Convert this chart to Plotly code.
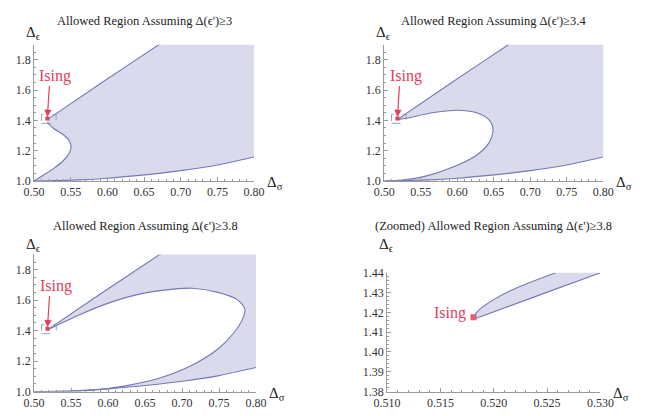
import plotly.graph_objects as go

W, H = 645, 416

# ---------------- data ----------------
titles = ["Allowed Region Assuming Δ(ϵ')≥3",
          "Allowed Region Assuming Δ(ϵ')≥3.4",
          "Allowed Region Assuming Δ(ϵ')≥3.8",
          "(Zoomed) Allowed Region Assuming Δ(ϵ')≥3.8"]

ising_x, ising_y = 0.5181, 1.4126
ising_zoom_y = 1.4175

# shared upper straight bound (tip -> top of frame)
upper_x = [0.518, 0.594, 0.670]
upper_y = [1.405, 1.655, 1.900]
# shared lower bound
lower_x = [0.500, 0.530, 0.560, 0.600, 0.640, 0.670, 0.700, 0.750, 0.800]
lower_y = [1.000, 1.002, 1.007, 1.018, 1.035, 1.050, 1.068, 1.105, 1.158]

# panel 1: left "nose" boundary, from (0.5,1.0) up to the tip
nose1_x = [0.500, 0.5125, 0.5260, 0.5400, 0.5480, 0.5505, 0.5480, 0.5400, 0.5270, 0.5180]
nose1_y = [1.000, 1.038, 1.080, 1.135, 1.185, 1.225, 1.265, 1.305, 1.345, 1.385]

# panel 2: inner boundary, from tip around to (0.5,1.0)
inner2_x = [0.518, 0.5305, 0.5654, 0.6003, 0.6265, 0.6430, 0.6491, 0.6439, 0.6265, 0.5959, 0.5567, 0.5218, 0.500]
inner2_y = [1.405, 1.4138, 1.4499, 1.4668, 1.4499, 1.4060, 1.3395, 1.2546, 1.1698, 1.0955, 1.0318, 1.0042, 1.000]

# panel 3: inner boundary, from tip around to (0.5,1.0)
inner3_x = [0.518, 0.5593, 0.6023, 0.6453, 0.6883, 0.7140, 0.7484, 0.7742, 0.7850, 0.7820, 0.7699,
            0.7484, 0.7140, 0.6711, 0.6238, 0.5722, 0.5206, 0.500]
inner3_y = [1.405, 1.4997, 1.5837, 1.6425, 1.6719, 1.6780, 1.6509, 1.6047, 1.5417, 1.4787, 1.3843,
            1.2793, 1.1743, 1.0903, 1.0378, 1.0063, 1.0000, 1.000]

# panel 4 (zoom): wedge edges
zup_x = [0.5181, 0.5184, 0.5190, 0.5216, 0.5258]
zup_y = [1.4165, 1.4200, 1.4229, 1.4310, 1.4400]
zlo_x = [0.5181, 0.5240, 0.5300]
zlo_y = [1.4165, 1.4282, 1.4400]

# zoom window shown as dashed box in panels 1-3
box_x = [0.510, 0.530]
box_y = [1.380, 1.440]

x_range = [0.50, 0.80]
y_range = [1.0, 1.9]
zx_range = [0.510, 0.530]
zy_range = [1.38, 1.44]

# ---------------- style ----------------
FILL = "#d9dbec"
EDGE = "#7478b4"
RED = "#e0405a"
SERIF = "Liberation Serif"
AXC = "#9a9a9a"

# off-frame helper points so the filled region runs past the clipped frame edges
PAD_TOP = [(0.700, 1.995), (0.950, 2.100)]
PAD_RIGHT = [(0.950, 1.300), (0.900, 1.264)]

# plot areas in pixels (left, right, top, bottom)
areas = [(21, 251, 39, 180), (387, 616, 39, 180), (21, 253, 256, 398), (390, 613, 275, 398)]

fig = go.Figure()


def ax_ids(i):
    s = "" if i == 0 else str(i + 1)
    return "x" + s, "y" + s


def add_fill(i, xs, ys, shape="spline"):
    xa, ya = ax_ids(i)
    fig.add_trace(go.Scatter(x=xs, y=ys, fill="toself", fillcolor=FILL, mode="lines",
                             line=dict(width=0, shape=shape, smoothing=0.6, color=FILL),
                             xaxis=xa, yaxis=ya, hoverinfo="skip", showlegend=False))


def add_line(i, xs, ys):
    xa, ya = ax_ids(i)
    fig.add_trace(go.Scatter(x=xs, y=ys, mode="lines",
                             line=dict(color=EDGE, width=1.1, shape="spline", smoothing=0.8),
                             xaxis=xa, yaxis=ya, hoverinfo="skip", showlegend=False))


pad_x = [p[0] for p in PAD_TOP + PAD_RIGHT]
pad_y = [p[1] for p in PAD_TOP + PAD_RIGHT]
lr_x = lower_x[::-1]
lr_y = lower_y[::-1]

# panel 1
add_fill(0, upper_x + pad_x + lr_x + nose1_x, upper_y + pad_y + lr_y + nose1_y)
add_line(0, upper_x + [PAD_TOP[0][0]], upper_y + [PAD_TOP[0][1]])
add_line(0, lower_x, lower_y)
add_line(0, nose1_x, nose1_y)

# panel 2
add_fill(1, upper_x + pad_x + lr_x + inner2_x[::-1], upper_y + pad_y + lr_y + inner2_y[::-1])
add_line(1, upper_x + [PAD_TOP[0][0]], upper_y + [PAD_TOP[0][1]])
add_line(1, lower_x, lower_y)
add_line(1, inner2_x, inner2_y)

# panel 3
add_fill(2, upper_x + pad_x + lr_x + inner3_x[::-1], upper_y + pad_y + lr_y + inner3_y[::-1])
add_line(2, upper_x + [PAD_TOP[0][0]], upper_y + [PAD_TOP[0][1]])
add_line(2, lower_x, lower_y)
add_line(2, inner3_x, inner3_y)

# panel 4
add_fill(3, zup_x + [0.540, 0.540] + zlo_x[::-1], zup_y + [1.45, 1.45] + zlo_y[::-1], shape="linear")
add_line(3, zup_x, zup_y)
add_line(3, zlo_x, zlo_y)

# dashed boxes and Ising markers
for i in range(3):
    xa, ya = ax_ids(i)
    fig.add_trace(go.Scatter(x=[box_x[0], box_x[1], box_x[1], box_x[0], box_x[0]],
                             y=[box_y[0], box_y[0], box_y[1], box_y[1], box_y[0]],
                             mode="lines", line=dict(color="#8090a8", width=0.8, dash="dash"),
                             xaxis=xa, yaxis=ya, hoverinfo="skip", showlegend=False))
    fig.add_trace(go.Scatter(x=[ising_x], y=[ising_y], mode="markers",
                             marker=dict(symbol="square", size=4, color=RED),
                             xaxis=xa, yaxis=ya, hoverinfo="skip", showlegend=False))

fig.add_trace(go.Scatter(x=[ising_x], y=[ising_zoom_y], mode="markers",
                         marker=dict(symbol="square", size=6, color="#e06070"),
                         xaxis="x4", yaxis="y4", hoverinfo="skip", showlegend=False))

layout = dict(width=W, height=H, margin=dict(l=0, r=0, t=0, b=0),
              paper_bgcolor="white", plot_bgcolor="white", showlegend=False,
              font=dict(family=SERIF, color="#333"))

title_y = [14, 14, 227, 227]
eps_y = [27, 27, 246, 246]
annotations = []
for i, (l, r, t, b) in enumerate(areas):
    s = "" if i == 0 else str(i + 1)
    zoom = (i == 3)
    xr = zx_range if zoom else x_range
    yr = zy_range if zoom else y_range
    xd = 0.005 if zoom else 0.05
    yd = 0.01 if zoom else 0.2
    common = dict(showgrid=False, zeroline=False, showline=True, linecolor=AXC, linewidth=1,
                  ticks="inside", ticklen=4, tickcolor=AXC, tickwidth=1,
                  tickfont=dict(family=SERIF, size=12, color="#333"), mirror=False)
    layout["xaxis" + s] = dict(domain=[l / W, r / W], range=xr, anchor="y" + s, dtick=xd, tick0=xr[0],
                               tickformat=".3f" if zoom else ".2f",
                               minor=dict(dtick=xd / 5, ticks="inside", ticklen=2, tickcolor=AXC),
                               **common)
    layout["yaxis" + s] = dict(domain=[1 - b / H, 1 - t / H], range=yr, anchor="x" + s, dtick=yd, tick0=yr[0],
                               tickformat=".2f" if zoom else ".1f",
                               minor=dict(dtick=yd / (5 if zoom else 4), ticks="inside", ticklen=2, tickcolor=AXC),
                               **common)
    annotations.append(dict(text=titles[i], xref="paper", yref="paper",
                            x=(l + r) / 2 / W, y=1 - title_y[i] / H,
                            showarrow=False, xanchor="center", yanchor="middle",
                            font=dict(family=SERIF, size=12.5, color="#222")))
    annotations.append(dict(text="Δ<sub>ϵ</sub>", xref="paper", yref="paper",
                            x=(l - 1) / W, y=1 - eps_y[i] / H,
                            showarrow=False, xanchor="center", yanchor="middle",
                            font=dict(family=SERIF, size=15, color="#222")))
    annotations.append(dict(text="Δ<sub>σ</sub>", xref="paper", yref="paper",
                            x=(r + 22) / W, y=1 - (b + 2) / H,
                            showarrow=False, xanchor="center", yanchor="middle",
                            font=dict(family=SERIF, size=15, color="#222")))

# Ising labels and arrows
label_x, label_y = 0.5292, 1.694
tail_x, tail_y = 0.521, 1.637
for i in range(3):
    xa, ya = ax_ids(i)
    annotations.append(dict(text="Ising", x=label_x, y=label_y, xref=xa, yref=ya, showarrow=False,
                            font=dict(family=SERIF, size=16, color=RED)))
    annotations.append(dict(text="", x=ising_x, y=ising_y + 0.01, xref=xa, yref=ya,
                            ax=tail_x, ay=tail_y, axref=xa, ayref=ya, showarrow=True,
                            arrowhead=2, arrowsize=1.2, arrowwidth=1.2, arrowcolor=RED))
annotations.append(dict(text="Ising", x=0.5159, y=1.4195, xref="x4", yref="y4", showarrow=False,
                        font=dict(family=SERIF, size=16, color=RED)))

layout["annotations"] = annotations
fig.update_layout(**layout)
fig.write_html("out.html")
